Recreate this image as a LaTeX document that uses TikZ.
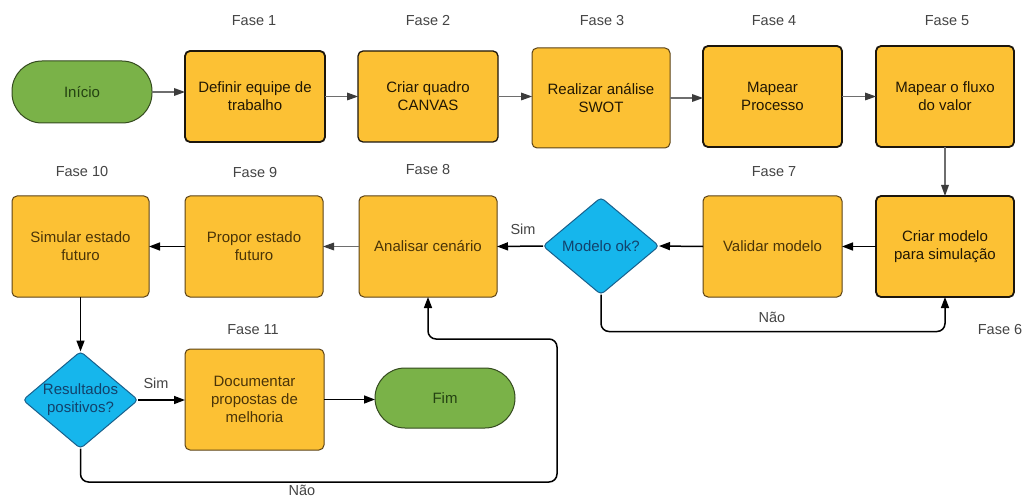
\documentclass[tikz,border=0pt]{standalone}
\usepackage{fontspec}
\setmainfont{Liberation Sans}
\usetikzlibrary{shapes.geometric,arrows.meta}

\definecolor{boxfill}{RGB}{252,193,52}
\definecolor{boxedge}{RGB}{92,66,22}
\definecolor{boxedgedark}{RGB}{28,22,12}
\definecolor{boxtext}{RGB}{74,52,8}
\definecolor{boxtextdark}{RGB}{34,24,4}
\definecolor{termfill}{RGB}{122,178,72}
\definecolor{termedge}{RGB}{52,74,30}
\definecolor{termtext}{RGB}{36,66,18}
\definecolor{decfill}{RGB}{22,182,236}
\definecolor{decedge}{RGB}{24,96,140}
\definecolor{dectext}{RGB}{18,66,108}
\definecolor{phasegray}{RGB}{68,68,68}
\definecolor{linegray}{RGB}{110,110,110}
\definecolor{headgray}{RGB}{60,60,60}

\begin{document}
\begin{tikzpicture}[x=1pt,y=-1pt,
  font=\fontsize{15}{18}\selectfont,
  proc/.style={draw=boxedge, fill=boxfill, rounded corners=5pt, line width=1pt,
    inner sep=0pt, outer sep=0pt, align=center, text=boxtext},
  strong/.style={draw=boxedgedark, line width=1.8pt, text=boxtextdark},
  medium/.style={draw=boxedgedark, line width=1.3pt, text=boxtextdark},
  term/.style={draw=termedge, fill=termfill, line width=1pt, rounded corners=30pt,
    minimum width=140pt, inner sep=0pt, outer sep=0pt, text=termtext},
  decision/.style={diamond, draw=decedge, fill=decfill, line width=1pt, rounded corners=4pt,
    minimum width=116pt, minimum height=97pt, inner sep=0pt, outer sep=0pt},
  dectxt/.style={align=center, text=dectext, font=\fontsize{15}{18}\selectfont},
  phase/.style={text=phasegray, font=\fontsize{14.5}{17}\selectfont},
  note/.style={text=phasegray, font=\fontsize{14.5}{17}\selectfont},
  flow/.style={draw=black, line width=1.5pt, -{Triangle[length=11pt,width=8pt]}},
  lightflow/.style={draw=linegray, line width=1.1pt,
    -{Triangle[length=11pt,width=8pt,fill=headgray,line width=0pt]}},
]
\fill[white] (0,0) rectangle (1022,497);
\useasboundingbox (0,0) rectangle (1022,497);

% top row
\node[term, minimum height=62pt] (ini) at (82,92) {Início};
\node[proc, strong, minimum width=140pt, minimum height=91pt] (f1) at (255,96.5) {Definir equipe de\\trabalho};
\node[proc, medium, minimum width=140pt, minimum height=91pt] (f2) at (428,96.5) {Criar quadro\\CANVAS};
\node[proc, text=boxtextdark, minimum width=138pt, minimum height=100pt] (f3) at (601,98) {Realizar análise\\SWOT};
\node[proc, strong, minimum width=139pt, minimum height=101pt] (f4) at (772.5,96.5) {Mapear\\Processo};
\node[proc, strong, minimum width=138pt, minimum height=101pt] (f5) at (945,96.5) {Mapear o fluxo\\do valor};

% middle row
\node[proc, minimum width=137pt, minimum height=101pt] (f10) at (80.5,246.5) {Simular estado\\futuro};
\node[proc, minimum width=138pt, minimum height=101pt] (f9) at (254,246.5) {Propor estado\\futuro};
\node[proc, minimum width=138pt, minimum height=101pt] (f8) at (428,246.5) {Analisar cenário};
\node[decision, label={[dectxt]center:Modelo ok?}] (d1) at (601,246) {};
\node[proc, minimum width=139pt, minimum height=101pt] (f7) at (772.5,246.5) {Validar modelo};
\node[proc, strong, minimum width=138pt, minimum height=101pt] (f6) at (945,246.5) {Criar modelo\\para simulação};

% bottom row
\node[decision, minimum width=115pt, label={[dectxt]center:Resultados\\positivos?}] (d2) at (80.5,400) {};
\node[proc, minimum width=139pt, minimum height=101pt] (f11) at (254.5,399.5) {Documentar\\propostas de\\melhoria};
\node[term, minimum height=60pt] (fim) at (445,398) {Fim};

% phase captions
\node[phase] (p1) at (254,21) {Fase 1};
\node[phase] (p2) at (428,21) {Fase 2};
\node[phase] (p3) at (602,21) {Fase 3};
\node[phase] (p4) at (774,21) {Fase 4};
\node[phase] (p5) at (947,21) {Fase 5};
\node[phase] (p10) at (82,172) {Fase 10};
\node[phase] (p9) at (255,173) {Fase 9};
\node[phase] (p8) at (428,170) {Fase 8};
\node[phase] (p7) at (774,172) {Fase 7};
\node[phase] (p6) at (1000,330) {Fase 6};
\node[phase] (p11) at (253,330) {Fase 11};

% branch labels
\node[note] (sim1) at (523,229) {Sim};
\node[note] (nao1) at (772,317) {Não};
\node[note] (sim2) at (156,383) {Sim};
\node[note] (nao2) at (302,490) {Não};

% loop corners
\coordinate (loopR) at (557,482);
\coordinate (loopT) at (557,339);

% connectors, top row
\draw[lightflow] (ini.east) -- (ini.east -| f1.west);
\draw[lightflow] (f1.east) -- (f1.east -| f2.west);
\draw[lightflow] (f2.east) -- (f2.east -| f3.west);
\draw[lightflow] (f3.east) -- (f3.east -| f4.west);
\draw[lightflow] (f4.east) -- (f4.east -| f5.west);
\draw[lightflow] (f5.south) -- (f6.north);

% connectors, middle row
\draw[flow] (f6.west) -- (f7.east);
\draw[flow] (f7.west) -- (d1.east);
\draw[flow] (d1.west) -- (f8.east);
\draw[lightflow] (f8.west) -- (f9.east);
\draw[flow] (f9.west) -- (f10.east);
\draw[flow, rounded corners=8pt] (d1.south) -- ++(0,37) -| (f6.south);

% connectors, bottom row
\draw[flow] (f10.south) -- (d2.north);
\draw[flow] (d2.east) -- (d2.east -| f11.west);
\draw[flow] (f11.east) -- (f11.east -| fim.west);
\draw[flow, rounded corners=8pt] (d2.south) |- (loopR) -- (loopT) -| (f8.south);
\end{tikzpicture}
\end{document}
